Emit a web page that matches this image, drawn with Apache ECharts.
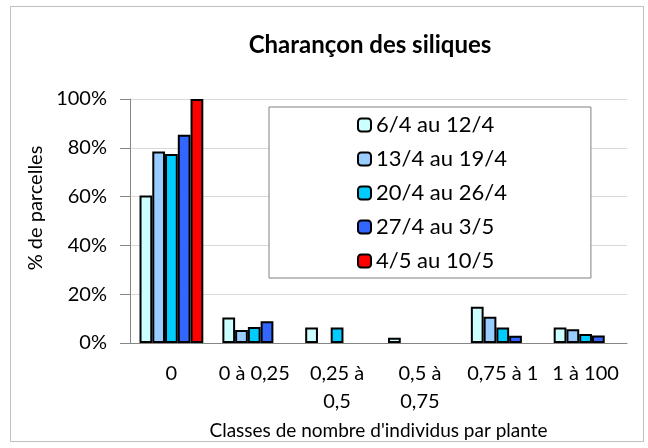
<!DOCTYPE html>
<html>
<head>
<meta charset="utf-8">
<script src="https://cdn.jsdelivr.net/npm/echarts@6/dist/echarts.min.js"></script>
<style>
    html, body {margin:0;padding:0;background:#fff;}
    #main {width:648px;height:448px;}
</style>
</head>
<body>
<div id="main"></div>
<script>
    // classes de nombre d'individus par plante
    var categories = ['0', '0 à 0,25', '0,25 à\n0,5', '0,5 à\n0,75', '0,75 à 1', '1 à 100'];
    var periods = ['6/4 au 12/4', '13/4 au 19/4', '20/4 au 26/4', '27/4 au 3/5', '4/5 au 10/5'];
    var colors = ['#ccffff', '#99ccff', '#00ccff', '#3366ff', '#ff0000'];

    // % de parcelles (null = pas de barre)
    var p1 = [60.5, 10.5, 6.4, 2.2, 14.9, 6.4];
    var p2 = [78.5, 5.3, null, null, 10.8, 5.6];
    var p3 = [77.5, 6.6, 6.4, null, 6.4, 3.7];
    var p4 = [85.3, 8.9, null, null, 3.0, 3.1];
    var p5 = [100, null, null, null, null, null];
    var values = [p1, p2, p3, p4, p5];

    var font = 'Lato';
    var chart = echarts.init(document.getElementById('main'));

    var series = periods.map(function (name, i) {
        return {
            name: name,
            type: 'bar',
            data: values[i],
            barGap: '0%',
            barCategoryGap: '23%',
            itemStyle: {color: colors[i], borderColor: '#000', borderWidth: 2}
        };
    });

    chart.setOption({
        animation: false,
        textStyle: {fontFamily: font, color: '#000'},
        title: {
            text: 'Charançon des siliques',
            left: 365, top: 28, textAlign: 'center',
            textStyle: {fontFamily: font, fontSize: 24, fontWeight: 'bold', color: '#000'}
        },
        graphic: [{
            type: 'rect', silent: true,
            shape: {x: 10.5, y: 6.5, width: 633, height: 435},
            style: {fill: null, stroke: '#bfbfbf', lineWidth: 1}
        }],
        legend: {
            data: periods,
            orient: 'vertical',
            left: 269, top: 107,
            padding: [6, 84, 5, 88],
            itemWidth: 13, itemHeight: 13, itemGap: 10,
            borderColor: '#808080', borderWidth: 1,
            backgroundColor: '#fff',
            textStyle: {fontFamily: font, fontSize: 22, color: '#000', lineHeight: 24}
        },
        grid: {left: 130, right: 21, top: 99, bottom: 105},
        xAxis: {
            type: 'category',
            data: categories,
            name: "Classes de nombre d'individus par plante",
            nameLocation: 'middle',
            nameGap: 77,
            nameTextStyle: {fontFamily: font, fontSize: 19, color: '#000'},
            axisLine: {lineStyle: {color: '#868686'}},
            axisTick: {length: 6, lineStyle: {color: '#868686'}},
            axisLabel: {fontFamily: font, fontSize: 20, color: '#000', margin: 17, lineHeight: 28, interval: 0}
        },
        yAxis: {
            type: 'value',
            min: 0, max: 100, interval: 20,
            name: '% de parcelles',
            nameLocation: 'middle',
            nameGap: 74,
            nameTextStyle: {fontFamily: font, fontSize: 20, color: '#000', padding: [0, 0, 0, 26]},
            axisLine: {show: true, lineStyle: {color: '#868686'}},
            axisTick: {show: true, length: 10, lineStyle: {color: '#868686'}},
            splitLine: {lineStyle: {color: '#d9d9d9'}},
            axisLabel: {formatter: '{value}%', fontFamily: font, fontSize: 20, color: '#000', margin: 23}
        },
        series: series
    });

    window.onresize = function () {
        chart.resize();
    };
</script>
</body>
</html>
